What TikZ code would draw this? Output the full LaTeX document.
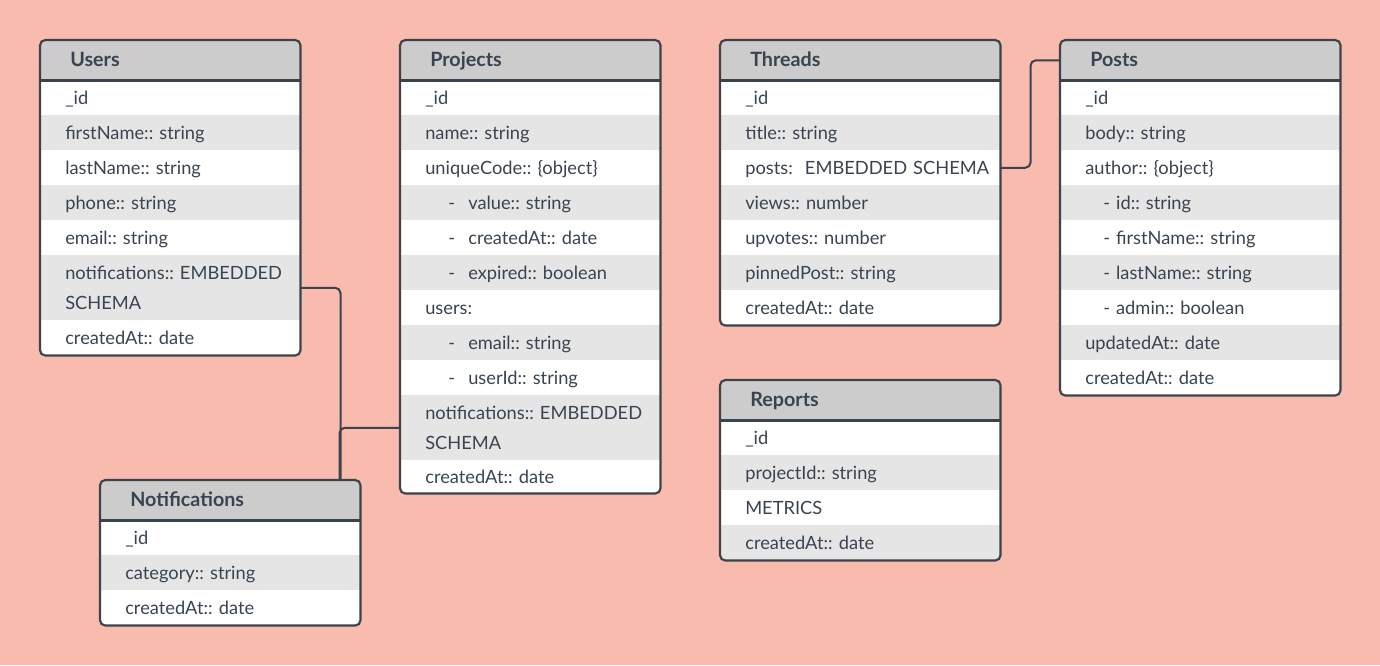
\documentclass[tikz,border=0pt]{standalone}
\usepackage{fontspec}
\setmainfont{Lato}
\usetikzlibrary{calc}
\frenchspacing
\definecolor{bg}{HTML}{F8BBAE}
\definecolor{hdrc}{HTML}{CCCCCC}
\definecolor{rowg}{HTML}{E5E5E5}
\definecolor{edge}{HTML}{3B434C}
\definecolor{txt}{HTML}{3A4450}
\tikzset{
 hdr/.style={anchor=north west, inner sep=0pt, minimum height=30pt, text height=8.8pt, text depth=0pt, fill=hdrc, align=left, font=\bfseries\fontsize{14.8}{17}\selectfont, text=txt},
 rowst/.style={anchor=north west, inner sep=0pt, align=left, font=\frenchspacing\fontsize{13.7}{22.5}\selectfont, text=txt},
 oneline/.style={text height=9.8pt, text depth=0pt},
 frame/.style={draw=edge, line width=1.6pt, rounded corners=4pt},
 sepline/.style={draw=edge, line width=1.6pt},
 conn/.style={draw=edge, line width=1.5pt, rounded corners=4pt},
}
\newcommand\thead[5]{\node[hdr, text width=#4] (#1) at (#2,#3) {\hspace*{22.5pt}#5};}
\newcommand\trow[7]{\node[rowst, oneline, fill=#6, text width=#4, minimum height=#5] (#1) at (#2,#3) {\hspace*{18.75pt}#7};}
\newcommand\trowtwo[7]{\node[rowst, fill=#6, text width=#4, minimum height=#5] (#1) at (#2,#3) {\hspace*{18.75pt}#7};}
\newcommand\dsh{\hspace*{17.25pt}\makebox[15pt][l]{-}}
\newcommand\pdsh{\hspace*{13.5pt}- }
\begin{document}
\begin{tikzpicture}[x=0.75pt,y=-0.75pt]
\fill[bg] (0,0) rectangle (1380,665);

% Users
\begin{scope}
\clip[rounded corners=4pt] (40,40) rectangle (300,355);
\thead{U}{40}{40}{195pt}{Users}
\trow{u1}{40}{80}{195pt}{26.25pt}{white}{\_id}
\trow{u2}{40}{115}{195pt}{26.25pt}{rowg}{firstName:: string}
\trow{u3}{40}{150}{195pt}{26.25pt}{white}{lastName:: string}
\trow{u4}{40}{185}{195pt}{26.25pt}{rowg}{phone:: string}
\trow{u5}{40}{220}{195pt}{26.25pt}{white}{email:: string}
\trowtwo{u6}{40}{255}{195pt}{48.75pt}{rowg}{notifications:: EMBEDDED\\\hspace*{18.75pt}SCHEMA}
\trow{u7}{40}{320}{195pt}{26.25pt}{white}{createdAt:: date}
\end{scope}
\draw[sepline] (U.south west) -- (U.south east);
\draw[frame] (U.north west) rectangle (u7.south east);

% Projects
\begin{scope}
\clip[rounded corners=4pt] (400,40) rectangle (660,493);
\thead{Pr}{400}{40}{195pt}{Projects}
\trow{p1}{400}{80}{195pt}{26.25pt}{white}{\_id}
\trow{p2}{400}{115}{195pt}{26.25pt}{rowg}{name:: string}
\trow{p3}{400}{150}{195pt}{26.25pt}{white}{uniqueCode:: \{object\}}
\trow{p4}{400}{185}{195pt}{26.25pt}{rowg}{\dsh value:: string}
\trow{p5}{400}{220}{195pt}{26.25pt}{white}{\dsh createdAt:: date}
\trow{p6}{400}{255}{195pt}{26.25pt}{rowg}{\dsh expired:: boolean}
\trow{p7}{400}{290}{195pt}{26.25pt}{white}{users:}
\trow{p8}{400}{325}{195pt}{26.25pt}{rowg}{\dsh email:: string}
\trow{p9}{400}{360}{195pt}{26.25pt}{white}{\dsh userId:: string}
\trowtwo{p10}{400}{395}{195pt}{48.75pt}{rowg}{notifications:: EMBEDDED\\\hspace*{18.75pt}SCHEMA}
\trow{p11}{400}{460}{195pt}{24.75pt}{white}{createdAt:: date}
\end{scope}
\draw[sepline] (Pr.south west) -- (Pr.south east);
\draw[frame] (Pr.north west) rectangle (p11.south east);

% Threads
\begin{scope}
\clip[rounded corners=4pt] (720,40) rectangle (1000,325);
\thead{T}{720}{40}{210pt}{Threads}
\trow{t1}{720}{80}{210pt}{26.25pt}{white}{\_id}
\trow{t2}{720}{115}{210pt}{26.25pt}{rowg}{title:: string}
\trow{t3}{720}{150}{210pt}{26.25pt}{white}{posts:\ \ EMBEDDED SCHEMA}
\trow{t4}{720}{185}{210pt}{26.25pt}{rowg}{views:: number}
\trow{t5}{720}{220}{210pt}{26.25pt}{white}{upvotes:: number}
\trow{t6}{720}{255}{210pt}{26.25pt}{rowg}{pinnedPost:: string}
\trow{t7}{720}{290}{210pt}{26.25pt}{white}{createdAt:: date}
\end{scope}
\draw[sepline] (T.south west) -- (T.south east);
\draw[frame] (T.north west) rectangle (t7.south east);

% Posts
\begin{scope}
\clip[rounded corners=4pt] (1060,40) rectangle (1340,395);
\thead{P}{1060}{40}{210pt}{Posts}
\trow{q1}{1060}{80}{210pt}{26.25pt}{white}{\_id}
\trow{q2}{1060}{115}{210pt}{26.25pt}{rowg}{body:: string}
\trow{q3}{1060}{150}{210pt}{26.25pt}{white}{author:: \{object\}}
\trow{q4}{1060}{185}{210pt}{26.25pt}{rowg}{\pdsh id:: string}
\trow{q5}{1060}{220}{210pt}{26.25pt}{white}{\pdsh firstName:: string}
\trow{q6}{1060}{255}{210pt}{26.25pt}{rowg}{\pdsh lastName:: string}
\trow{q7}{1060}{290}{210pt}{26.25pt}{white}{\pdsh admin:: boolean}
\trow{q8}{1060}{325}{210pt}{26.25pt}{rowg}{updatedAt:: date}
\trow{q9}{1060}{360}{210pt}{26.25pt}{white}{createdAt:: date}
\end{scope}
\draw[sepline] (P.south west) -- (P.south east);
\draw[frame] (P.north west) rectangle (q9.south east);

% Reports
\begin{scope}
\clip[rounded corners=4pt] (720,380) rectangle (1000,560);
\thead{R}{720}{380}{210pt}{Reports}
\trow{r1}{720}{420}{210pt}{26.25pt}{white}{\_id}
\trow{r2}{720}{455}{210pt}{26.25pt}{rowg}{projectId:: string}
\trow{r3}{720}{490}{210pt}{26.25pt}{white}{METRICS}
\trow{r4}{720}{525}{210pt}{26.25pt}{rowg}{createdAt:: date}
\end{scope}
\draw[sepline] (R.south west) -- (R.south east);
\draw[frame] (R.north west) rectangle (r4.south east);

% Notifications
\begin{scope}
\clip[rounded corners=4pt] (100,480) rectangle (360,625);
\thead{N}{100}{480}{195pt}{Notifications}
\trow{n1}{100}{520}{195pt}{26.25pt}{white}{\_id}
\trow{n2}{100}{555}{195pt}{26.25pt}{rowg}{category:: string}
\trow{n3}{100}{590}{195pt}{26.25pt}{white}{createdAt:: date}
\end{scope}
\draw[sepline] (N.south west) -- (N.south east);
\draw[frame] (N.north west) rectangle (n3.south east);

% connectors
\draw[conn] (u6.east) -| ($(N.north west)+(240.5,0)$);
\draw[conn] (p10.west) -| ($(N.north west)+(239.5,0)$);
\draw[conn] (t3.east) -- ++(30,0) |- (P.west);
\end{tikzpicture}
\end{document}
